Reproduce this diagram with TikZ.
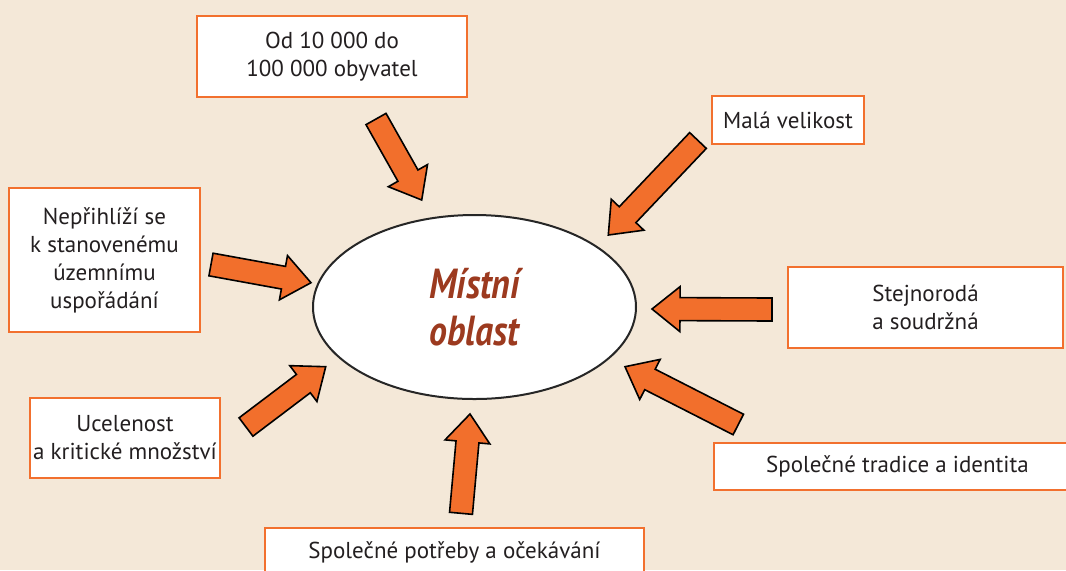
\documentclass[tikz,border=0pt]{standalone}
\usepackage{fontspec}
\setmainfont{PT Sans}
\newfontfamily\oblastfont[FakeStretch=0.85]{PT Sans}
\usepackage{xcolor}
\usepackage{tikz}
\usetikzlibrary{calc, shapes.geometric}

\definecolor{fond}{HTML}{F4E8D8}
\definecolor{orangeboite}{HTML}{F2702E}
\definecolor{orangefleche}{HTML}{F26F2C}
\definecolor{brique}{HTML}{9C3A1F}
\definecolor{texte}{HTML}{231F20}

% fleche pleine : #1 = queue, #2 = pointe
\newcommand{\grossefleche}[2]{%
  \path ($(#2)!14pt!(#1)$) coordinate (hb);
  \draw[fleche] ($(#1)!5.75pt!90:(#2)$) -- ($(hb)!5.75pt!90:(#2)$) -- ($(hb)!11.25pt!90:(#2)$)
    -- (#2) -- ($(hb)!11.25pt!-90:(#2)$) -- ($(hb)!5.75pt!-90:(#2)$) -- ($(#1)!5.75pt!-90:(#2)$) -- cycle;}

\begin{document}
\begin{tikzpicture}[x=0.5pt, y=-0.5pt]
		\tikzstyle{boite}=[draw=orangeboite, line width=1pt, fill=white, align=center, inner sep=0pt, text=texte, font=\fontsize{11.5}{14}\selectfont]
		\tikzstyle{fleche}=[fill=orangefleche, draw=black, line width=0.8pt, line join=miter]
		\useasboundingbox (0,0) rectangle (1066,570);
		\fill[color=fond] (0,0) rectangle (1066,570);

		\node[boite, minimum width=135pt, minimum height=40.5pt] (obyvatel) at (332,56.5) {Od 10 000 do\\100 000 obyvatel};
		\node[boite, minimum width=76pt, minimum height=24pt] (velikost) at (788,120) {Malá velikost};
		\node[boite, minimum width=95.5pt, minimum height=72pt] (usporadani) at (104.5,260) {Nepřihlíží se\\k stanovenému\\územnímu\\uspořádání};
		\node[boite, minimum width=137.5pt, minimum height=40.5pt] (soudrzna) at (925.5,307.5) {Stejnorodá\\a soudržná};
		\node[boite, minimum width=95pt, minimum height=40pt] (ucelenost) at (125,438) {Ucelenost\\a kritické množství};
		\node[boite, minimum width=183.5pt, minimum height=23.5pt] (tradice) at (897.5,466.5) {Společné tradice a identita};
		\node[boite, minimum width=189.5pt, minimum height=24pt] (potreby) at (454.5,552) {Společné potřeby a očekávání};

		\node[draw=black!85, ellipse, line width=1pt, fill=white, inner sep=0pt, minimum width=161.5pt, minimum height=92pt,
			align=center, text=brique, font=\oblastfont\bfseries\itshape\fontsize{21}{23.5}\selectfont] (oblast) at (474.5,307) {Místní\\oblast};

		\coordinate (q1) at (376,119);   \coordinate (p1) at (421.7,200);
		\coordinate (q2) at (698,140.5); \coordinate (p2) at (608.3,235);
		\coordinate (q3) at (211,264.5); \coordinate (p3) at (311,282.7);
		\coordinate (q4) at (772,309.5); \coordinate (p4) at (652,309);
		\coordinate (q5) at (246,427);   \coordinate (p5) at (325.7,366.7);
		\coordinate (q6) at (738.3,424.5); \coordinate (p6) at (625,366.7);
		\coordinate (q7) at (461,513.3); \coordinate (p7) at (470,414);
		\foreach \i in {1,...,7}
			\grossefleche{q\i}{p\i};
	\end{tikzpicture}
\end{document}
